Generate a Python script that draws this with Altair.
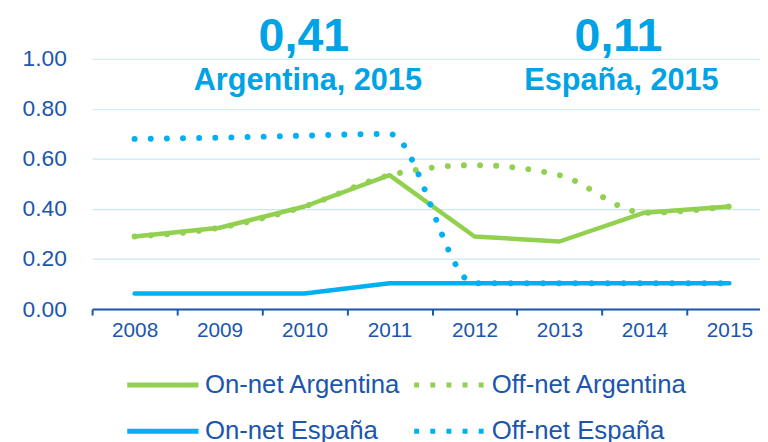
import altair as alt
import pandas as pd

years = ["2008", "2009", "2010", "2011", "2012", "2013", "2014", "2015"]
on_net_arg = [0.29, 0.325, 0.41, 0.535, 0.29, 0.27, 0.385, 0.41]
off_net_arg = [0.29, 0.325, 0.41, 0.535, 0.575, 0.535, 0.385, 0.41]
on_net_esp = [0.062, 0.062, 0.062, 0.103, 0.103, 0.103, 0.103, 0.103]
off_net_esp = [0.68, 0.685, 0.693, 0.70, 0.103, 0.103, 0.103, 0.103]
series_names = ["On-net Argentina", "Off-net Argentina", "On-net España", "Off-net España"]
series_colors = ["#92D050", "#92D050", "#00B0F0", "#00B0F0"]
y_ticks = [0.0, 0.2, 0.4, 0.6, 0.8, 1.0]
big_values = ["0,41", "0,11"]
big_labels = ["Argentina, 2015", "España, 2015"]

rows = []
for name, vals in zip(series_names, [on_net_arg, off_net_arg, on_net_esp, off_net_esp]):
    for yr, v in zip(years, vals):
        rows.append({"year": yr, "value": v, "series": name})
df = pd.DataFrame(rows)

DARK = "#1B56AC"
ANN = "#00A3E6"
FONT = "Liberation Sans"

# long horizontal stroke drawn from a compact symbol size (keeps legend rows tight)
legend = alt.Legend(
    title=None, orient="none", legendX=33, legendY=315, columns=2, direction="horizontal",
    symbolType="M-3,0L3,0", symbolSize=576, symbolStrokeWidth=5, symbolOffset=24,
    labelFontSize=26, labelColor=DARK, labelFont=FONT, labelOffset=28,
    labelLimit=0, columnPadding=2, rowPadding=19, padding=0,
)

x_enc = alt.X(
    "year:O", sort=years, bandPosition=0.5,
    scale=alt.Scale(type="band", paddingInner=0, paddingOuter=0, range=[0, 687]),
    axis=alt.Axis(
        title=None, tickBand="extent", labelAngle=0, labelFontSize=21,
        labelColor=DARK, labelFont=FONT, domainColor=DARK, domainWidth=2,
        tickColor=DARK, tickWidth=2, tickSize=6, labelPadding=5, grid=False,
    ),
)
y_enc = alt.Y(
    "value:Q", scale=alt.Scale(domain=[0, 1], nice=False),
    axis=alt.Axis(
        title=None, values=y_ticks, format=".2f", labelFontSize=23,
        labelColor=DARK, labelFont=FONT, domain=False, ticks=False,
        labelPadding=26, grid=True, gridColor="#C8E6F3", gridWidth=1.2,
    ),
)
color_enc = alt.Color("series:N", scale=alt.Scale(domain=series_names, range=series_colors), legend=legend)
dash_enc = alt.StrokeDash(
    "series:N",
    scale=alt.Scale(domain=series_names, range=[[1, 0], [5, 11.3], [1, 0], [5, 11.3]]),
    legend=legend,
)

solid = alt.Chart(df).transform_filter(
    alt.FieldOneOfPredicate(field="series", oneOf=[series_names[0], series_names[2]])
).mark_line(strokeWidth=4.5, strokeCap="round", strokeJoin="round").encode(
    x=x_enc, y=y_enc, color=color_enc, order=alt.Order("year:O")
)
dotted = alt.Chart(df).transform_filter(
    alt.FieldOneOfPredicate(field="series", oneOf=[series_names[1], series_names[3]])
).mark_line(strokeWidth=6, strokeCap="round", strokeDash=[0.01, 16.3], interpolate="monotone").encode(
    x=x_enc, y=y_enc, color=color_enc, order=alt.Order("year:O")
)
# zero-width layer that only carries the dash pattern into the legend
legend_layer = alt.Chart(df).mark_line(strokeWidth=0).encode(
    x=x_enc, y=y_enc, color=color_enc, strokeDash=dash_enc, order=alt.Order("year:O")
)

one = alt.Data(values=[{}])
def ann(txt, xpix, ypix, size):
    return alt.Chart(one).mark_text(
        font=FONT, fontWeight="bold", fontSize=size, color=ANN, align="center", baseline="alphabetic"
    ).encode(text=alt.datum(txt), x=alt.value(xpix), y=alt.value(ypix))

chart = alt.layer(
    legend_layer, solid, dotted,
    ann(big_values[0], 214, -8, 47),
    ann(big_values[1], 532, -8, 47),
    ann(big_labels[0], 218, 32, 31),
    ann(big_labels[1], 535, 32, 31),
).properties(
    width=675, height=253,
    autosize=alt.AutoSizeParams(type="none"),
    padding={"left": 85, "top": 49, "right": 0, "bottom": 132},
).configure_view(stroke=None)

chart.save("out.html", embed_options={"renderer": "svg", "actions": False})
